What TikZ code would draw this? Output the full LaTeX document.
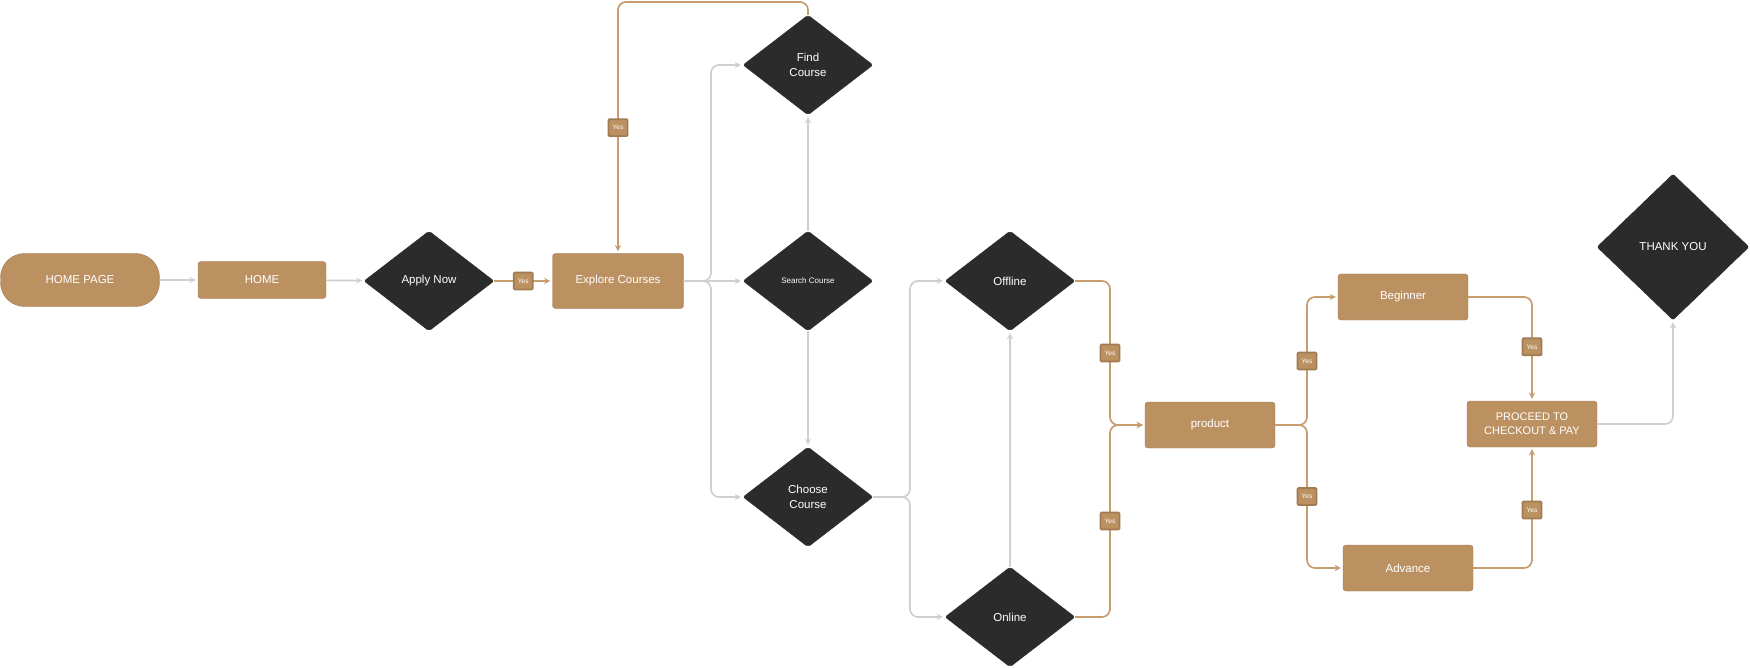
\documentclass[tikz,border=0pt]{standalone}
\usepackage{fontspec}
\setmainfont{Liberation Sans}
\usepackage{tikz}
\usetikzlibrary{shapes,arrows}
\definecolor{tanfill}{HTML}{BC9162}
\definecolor{tanline}{HTML}{C59D6E}
\definecolor{darkfill}{HTML}{2B2B2B}
\definecolor{grayline}{HTML}{CFCFCF}
\tikzstyle{line} = [draw=grayline, -stealth, line width=1.7pt, rounded corners=8pt, shorten >=2pt]
\tikzstyle{yesline} = [draw=tanline, -stealth, line width=1.7pt, rounded corners=8pt, shorten >=2pt]
\tikzstyle{box} = [draw=tanfill!85!black, fill=tanfill, rounded corners=3pt, text=white,
  minimum width=130pt, minimum height=46pt, align=center, font=\fontsize{11.5}{14}\selectfont]
\tikzstyle{dec} = [diamond, draw=darkfill, fill=darkfill, rounded corners=2pt, text=white,
  minimum width=130pt, minimum height=100pt, inner sep=0pt, align=center, font=\fontsize{11.5}{15}\selectfont]

\begin{document}
\begin{tikzpicture}[x=1pt,y=-1pt]
\tikzstyle{yes} = [draw=tanfill!85!black, fill=tanfill, text=white, rounded corners=1pt,
  inner sep=0pt, minimum width=19pt, minimum height=17pt, font=\fontsize{6.5}{7}\selectfont]
\useasboundingbox (0,0) rectangle (1750,668);
\node[box, rounded corners=24pt, minimum width=159pt, minimum height=53pt] (homepage) at (80,280) {HOME PAGE};
\node[box, minimum width=128pt, minimum height=37pt] (home) at (262,280) {HOME};
\node[dec] (apply) at (429,281) {Apply Now};
\node[box, minimum width=131pt, minimum height=55pt] (explore) at (618,281) {Explore Courses};
\node[dec] (find) at (808,65) {Find\\Course};
\node[dec, font=\fontsize{8}{10}\selectfont] (search) at (808,281) {Search Course};
\node[dec] (choose) at (808,497) {Choose\\Course};
\node[dec] (offline) at (1010,281) {Offline};
\node[dec] (online) at (1010,617) {Online};
\node[box] (product) at (1210,425) {product};
\node[box] (beginner) at (1403,297) {Beginner};
\node[box] (advance) at (1408,568) {Advance};
\node[box, font=\fontsize{11}{14}\selectfont] (pay) at (1532,424) {PROCEED TO\\CHECKOUT \& PAY};
\node[dec, minimum width=152pt, minimum height=146pt] (thanks) at (1673,247) {THANK YOU};
\coordinate (top) at (618,2);
\coordinate (fork1) at (711,281);
\coordinate (fork2) at (910,497);
\coordinate (join1) at (1110,425);
\coordinate (fork3) at (1307,425);
\path [line] (homepage) -- (home);
\path [line] (home) -- (apply);
\path [yesline] (apply) -- node[yes] {Yes} (explore);
\path [yesline] (find.north) |- (top) -- node[yes] {Yes} (explore.north);
\path [line] (explore.east) -- (fork1) |- (find.west);
\path [line] (explore) -- (search);
\path [line] (explore.east) -- (fork1) |- (choose.west);
\path [line] (search) -- (find);
\path [line] (search) -- (choose);
\path [line] (choose.east) -- (fork2) |- (offline.west);
\path [line] (choose.east) -- (fork2) |- (online.west);
\path [line] (online) -- (offline);
\path [yesline] (offline.east) -| node[yes, pos=0.75] {Yes} (join1) -- (product.west);
\path [yesline] (online.east) -| node[yes, pos=0.75] {Yes} (join1) -- (product.west);
\path [yesline] (product.east) -- (fork3) |- node[yes, pos=0.25] {Yes} (beginner.west);
\path [yesline] (product.east) -- (fork3) |- node[yes, pos=0.25] {Yes} (advance.west);
\path [yesline] (beginner.east) -| node[yes, pos=0.74] {Yes} (pay.north);
\path [yesline] (advance.east) -| node[yes, pos=0.74] {Yes} (pay.south);
\path [line] (pay.east) -| (thanks.south);
\end{tikzpicture}
\end{document}
